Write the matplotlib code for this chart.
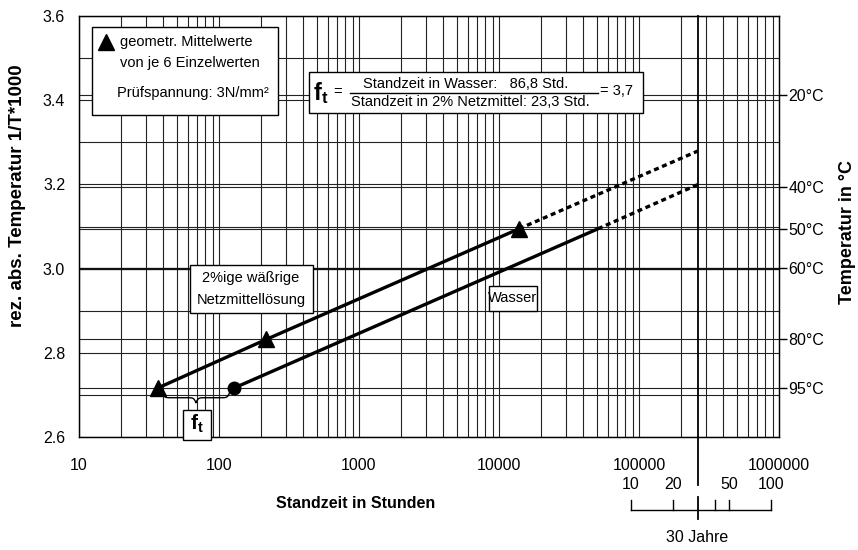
import numpy as np
import matplotlib
matplotlib.use("Agg")
import matplotlib.pyplot as plt
from matplotlib.lines import Line2D
from matplotlib.patches import Rectangle
from matplotlib.transforms import blended_transform_factory

plt.rcParams['font.family'] = ['Liberation Sans', 'DejaVu Sans']
plt.rcParams['mathtext.fontset'] = 'custom'
plt.rcParams['mathtext.rm'] = 'Liberation Sans'
plt.rcParams['mathtext.bf'] = 'Liberation Sans:bold'
plt.rcParams['mathtext.it'] = 'Liberation Sans:italic'

# Time to failure (hours) at the test temperatures (°C)
netz_hours = [36.5, 217, 13900]
netz_temp = [95, 80, 50]
wasser_hours = [128, 50900]
wasser_temp = [95, 50]

# Extrapolation of both lines to 30 years
ext_hours = 262800
netz_ext_temp = 31.8
wasser_ext_temp = 39.4

x_ticks = [10, 100, 1000, 10000, 100000, 1000000]
y_ticks = [2.6, 2.8, 3.0, 3.2, 3.4, 3.6]
y_grid = [2.6, 2.7, 2.8, 2.9, 3.0, 3.1, 3.2, 3.3, 3.4, 3.5, 3.6]
temp_ticks = [20, 40, 50, 60, 80, 95]
year_ticks = [10, 20, 30, 40, 50, 100]
year_labels = ['10', '20', '', '', '50', '100']
HOURS_PER_YEAR = 8760


def inv_t(c):
    """reciprocal absolute temperature * 1000"""
    return 1000.0 / (np.asarray(c, dtype=float) + 273.15)


W, H = 858, 550
fig = plt.figure(figsize=(W / 100, H / 100), dpi=100)


def fx(px):
    return px / W


def fy(py):
    return 1 - py / H


ax_l, ax_r, ax_t, ax_b = 79, 779, 16, 437
ax = fig.add_axes([fx(ax_l), fy(ax_b), fx(ax_r - ax_l), (ax_b - ax_t) / H])
ax.set_xscale('log')
ax.set_xlim(10, 1e6)
ax.set_ylim(2.6, 3.6)

grid_kw = dict(color='#222222', lw=0.8, zorder=1)
# vertical log grid
for dec in [10, 100, 1000, 10000, 100000]:
    for k in range(1, 10):
        ax.axvline(k * dec, **grid_kw)
# horizontal grid: 0.1 steps and temperature marks
for yv in y_grid:
    ax.axhline(yv, **grid_kw)
for yv in inv_t(temp_ticks):
    ax.axhline(yv, **grid_kw)
ax.axhline(3.0, color='#111111', lw=1.6, zorder=1)

ax.set_xticks(x_ticks)
ax.set_xticklabels([str(v) for v in x_ticks])
ax.xaxis.set_minor_locator(matplotlib.ticker.NullLocator())
ax.set_yticks(y_ticks)
ax.set_yticklabels([f'{v:.1f}' for v in y_ticks])
ax.tick_params(axis='x', length=0, pad=15, labelsize=11.5)
ax.tick_params(axis='y', length=0, pad=10, labelsize=11.5)
for s in ax.spines.values():
    s.set_linewidth(1.0)
    s.set_color('#111111')

# right-hand temperature scale
ax2 = ax.twinx()
ax2.set_ylim(ax.get_ylim())
ax2.set_yticks(inv_t(temp_ticks))
ax2.set_yticklabels([f'{t}°C' for t in temp_ticks])
ax2.tick_params(axis='y', direction='out', length=6, width=1.0, pad=1,
                labelsize=11.5)
ax2.yaxis.set_minor_locator(matplotlib.ticker.NullLocator())

# measured lines
lw = 2.4
dash = (0, (1.5, 1.1))
ax.plot(netz_hours, inv_t(netz_temp), color='black', lw=lw, zorder=4,
        solid_capstyle='butt')
ax.plot([netz_hours[-1], ext_hours], inv_t([netz_temp[-1], netz_ext_temp]),
        color='black', lw=lw, ls=dash, zorder=4)
ax.plot(wasser_hours, inv_t(wasser_temp), color='black', lw=lw, zorder=4,
        solid_capstyle='butt')
ax.plot([wasser_hours[-1], ext_hours], inv_t([wasser_temp[-1], wasser_ext_temp]),
        color='black', lw=lw, ls=dash, zorder=4)
ax.plot(netz_hours, inv_t(netz_temp), ls='none', marker='^', ms=11,
        color='black', zorder=5, clip_on=False)
ax.plot(wasser_hours[:1], inv_t(wasser_temp[:1]), ls='none', marker='o', ms=9,
        color='black', zorder=5)

# curly brace between the two 95 °C results
t = np.linspace(0, 0.5, 60)
b = 60.0
half = 1 / (1 + np.exp(-b * t)) + 1 / (1 + np.exp(-b * (t - 0.5)))
shape = np.concatenate([half, half[-2::-1]]) - 0.5
tt = np.linspace(0, 1, shape.size)
lx0, lx1 = np.log10(netz_hours[0] * 1.08), np.log10(wasser_hours[0] * 0.93)
bx = 10 ** (lx0 + tt * (lx1 - lx0))
y95 = float(inv_t(95))
by = y95 - 0.011 - 0.024 * shape
ax.plot(bx, by, color='black', lw=1.0, zorder=4)

# 30 year marker and year scale below the axis
trans = blended_transform_factory(ax.transData, ax.transAxes)
yr_h = [y * HOURS_PER_YEAR for y in year_ticks]
h30 = 30 * HOURS_PER_YEAR
ax.plot([h30, h30], [1, -0.114], transform=trans, color='black', lw=1.3,
        clip_on=False, zorder=3)
ax.plot([h30, h30], [-0.143, -0.195], transform=trans, color='black', lw=1.3,
        clip_on=False, zorder=3)
ax.plot([yr_h[0], yr_h[-1]], [-0.173, -0.173], transform=trans, color='black',
        lw=1.0, clip_on=False)
for h, lab in zip(yr_h, year_labels):
    if h != h30:
        ax.plot([h, h], [-0.173, -0.149], transform=trans, color='black',
                lw=1.0, clip_on=False)
    if lab:
        ax.text(h, -0.114, lab, transform=trans, ha='center', va='center',
                fontsize=11.5)
fig.text(fx(697), fy(538), '30 Jahre', ha='center', va='center', fontsize=11.5)

# axis titles
fig.text(fx(356), fy(504), 'Standzeit in Stunden', ha='center', va='center',
         fontsize=11.5, fontweight='bold')
fig.text(fx(18), fy(196), 'rez. abs. Temperatur 1/T*1000', ha='center',
         va='center', rotation=90, fontsize=13.5, fontweight='bold')
fig.text(fx(847), fy(232), 'Temperatur in °C', ha='center', va='center',
         rotation=90, fontsize=13, fontweight='bold')


def box(x0, y0, x1, y1):
    r = Rectangle((fx(x0), fy(y1)), fx(x1 - x0), (y1 - y0) / H,
                  transform=fig.transFigure, facecolor='white',
                  edgecolor='black', lw=1.0, zorder=6)
    fig.add_artist(r)


def ftext(x, y, s, **kw):
    kw.setdefault('fontsize', 10.5)
    kw.setdefault('va', 'center')
    t = fig.text(fx(x), fy(y), s, **kw)
    t.set_zorder(7)
    return t


# legend box
box(92, 27, 278, 115)
fig.add_artist(Line2D([fx(106)], [fy(42)], transform=fig.transFigure,
                      marker='^', ms=11, color='black', ls='none', zorder=7))
ftext(120, 42, 'geometr. Mittelwerte', ha='left')
ftext(120, 63, 'von je 6 Einzelwerten', ha='left')
ftext(117, 93, 'Prüfspannung: 3N/mm²', ha='left')

# ratio box
box(309, 72, 643, 113)
ftext(313, 93, r'$\mathbf{f}_{\mathbf{t}}$', ha='left', fontsize=17)
ftext(338, 92, '=', ha='center', fontsize=10.5)
ftext(466, 84, 'Standzeit in Wasser:   86,8 Std.', ha='center')
ftext(470, 102, 'Standzeit in 2% Netzmittel: 23,3 Std.', ha='center')
fig.add_artist(Line2D([fx(350), fx(598)], [fy(93), fy(93)],
                      transform=fig.transFigure, color='black', lw=1.0,
                      zorder=7))
ftext(600, 91, '= 3,7', ha='left')

# line labels
box(190, 265, 313, 313)
ftext(251, 278, '2%ige wäßrige', ha='center')
ftext(251, 300, 'Netzmittellösung', ha='center')
box(489, 286, 537, 311)
ftext(513, 298, 'Wasser', ha='center')
box(183, 410, 211, 440)
ftext(197, 424, r'$\mathbf{f}_{\mathbf{t}}$', ha='center', fontsize=15)

fig.savefig('out.png', dpi=100)
